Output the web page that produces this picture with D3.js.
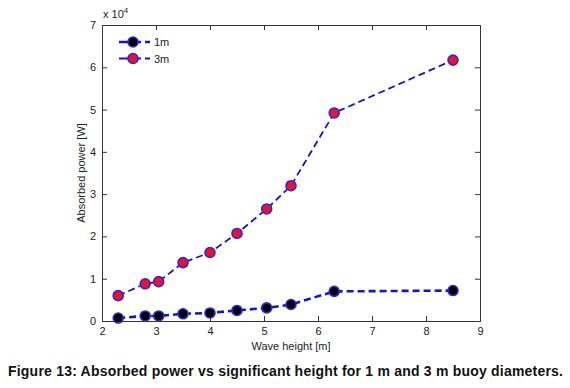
<!DOCTYPE html>
<html>
<head>
<meta charset="utf-8">
<script src="https://cdn.jsdelivr.net/npm/d3@7"></script>
<style>
  body { margin: 0; background: #fff; }
  svg { display: block; }
</style>
</head>
<body>
<div id="viz"></div>
<script>
const width = 570;
const height = 388;
const margin = {top: 25, right: 90, bottom: 67, left: 102};

// data
const waveHeight = [2.3, 2.8, 3.05, 3.5, 4.0, 4.5, 5.05, 5.5, 6.3, 8.5];
const power1m = [700, 1200, 1200, 1700, 1900, 2500, 3100, 3900, 7000, 7200];
const power3m = [6000, 8800, 9300, 13800, 16200, 20700, 26500, 32000, 49200, 61700];
const seriesNames = ['1m', '3m'];
const xTicks = [2, 3, 4, 5, 6, 7, 8, 9];
const yTicks = [0, 1, 2, 3, 4, 5, 6, 7];

const lineColor = '#1414c8';
const markerStroke = '#2a2ad8';
const fills = {'1m': '#000000', '3m': '#f0102a'};

const series = [
  {name: '1m', values: power1m, width: 2.6},
  {name: '3m', values: power3m, width: 1.8}
];

const svg = d3.select('#viz').append('svg')
    .attr('width', width)
    .attr('height', height)
    .style('font-family', '"Liberation Sans", Arial, sans-serif');

const x = d3.scaleLinear().domain([2, 9]).range([margin.left, width - margin.right]);
const y = d3.scaleLinear().domain([0, 70000]).range([height - margin.bottom, margin.top]);

// axes (MATLAB-style box with inward ticks)
const axisColor = '#333';
const axBottom = svg.append('g')
    .attr('transform', `translate(0,${height - margin.bottom})`)
    .call(d3.axisBottom(x).tickValues(xTicks).tickSize(-5).tickPadding(6).tickFormat(d3.format('d')));
const axTop = svg.append('g')
    .attr('transform', `translate(0,${margin.top})`)
    .call(d3.axisTop(x).tickValues(xTicks).tickSize(-5).tickFormat(''));
const axLeft = svg.append('g')
    .attr('transform', `translate(${margin.left},0)`)
    .call(d3.axisLeft(y).tickValues(yTicks.map(t => t * 10000)).tickSize(-5).tickPadding(6).tickFormat(d => d / 10000));
const axRight = svg.append('g')
    .attr('transform', `translate(${width - margin.right},0)`)
    .call(d3.axisRight(y).tickValues(yTicks.map(t => t * 10000)).tickSize(-5).tickFormat(''));

[axBottom, axTop, axLeft, axRight].forEach(g => {
  g.select('.domain').attr('stroke', axisColor).attr('stroke-width', 1);
  g.selectAll('.tick line').attr('stroke', axisColor);
  g.selectAll('.tick text').attr('fill', '#222').style('font-size', '11px').style('font-family', '"Liberation Sans", Arial, sans-serif');
});
// hide end ticks on the box edges
axBottom.selectAll('.tick line').filter(d => d === 2 || d === 9).remove();
axTop.selectAll('.tick line').filter(d => d === 2 || d === 9).remove();
axLeft.selectAll('.tick line').filter(d => d === 0 || d === 70000).remove();
axRight.selectAll('.tick line').filter(d => d === 0 || d === 70000).remove();

// exponent label
const expo = svg.append('text')
    .attr('x', margin.left + 1)
    .attr('y', margin.top - 7)
    .attr('fill', '#222')
    .style('font-size', '11px');
expo.append('tspan').text('x 10');
expo.append('tspan').attr('dy', -5).style('font-size', '8px').text('4');

// axis titles
svg.append('text')
    .attr('x', x(5.5))
    .attr('y', 350)
    .attr('text-anchor', 'middle')
    .attr('fill', '#222')
    .style('font-size', '11px')
    .text('Wave height [m]');

svg.append('text')
    .attr('transform', `translate(85,${y(35000)}) rotate(-90)`)
    .attr('text-anchor', 'middle')
    .attr('fill', '#222')
    .style('font-size', '11px')
    .text('Absorbed power [W]');

// lines
const line = d3.line()
    .x((d, i) => x(waveHeight[i]))
    .y(d => y(d));

svg.append('g').selectAll('path')
  .data(series)
  .join('path')
    .attr('d', d => line(d.values))
    .attr('fill', 'none')
    .attr('stroke', lineColor)
    .attr('stroke-width', d => d.width)
    .attr('stroke-dasharray', '7,4');

// markers
series.forEach(s => {
  svg.append('g').selectAll('circle')
    .data(s.values)
    .join('circle')
      .attr('cx', (d, i) => x(waveHeight[i]))
      .attr('cy', d => y(d))
      .attr('r', 5)
      .attr('fill', fills[s.name])
      .attr('stroke', markerStroke)
      .attr('stroke-width', 1.6);
});

// legend
const legend = svg.append('g').attr('transform', 'translate(119,42)');
seriesNames.forEach((name, i) => {
  const g = legend.append('g').attr('transform', `translate(0,${i * 16.5})`);
  g.append('line')
      .attr('x1', 0).attr('x2', 31)
      .attr('stroke', lineColor)
      .attr('stroke-width', series[i].width)
      .attr('stroke-dasharray', '9,4');
  g.append('circle')
      .attr('cx', 14).attr('r', 5)
      .attr('fill', fills[name])
      .attr('stroke', markerStroke)
      .attr('stroke-width', 1.6);
  g.append('text')
      .attr('x', 35).attr('y', 4)
      .attr('fill', '#222')
      .style('font-size', '11px')
      .text(name);
});

// caption
svg.append('text')
    .attr('x', 8)
    .attr('y', 376)
    .attr('fill', '#111')
    .attr('textLength', 555)
    .attr('lengthAdjust', 'spacing')
    .style('font-size', '14px')
    .style('font-weight', 'bold')
    .text('Figure 13: Absorbed power vs significant height for 1 m and 3 m buoy diameters.');
</script>
</body>
</html>
